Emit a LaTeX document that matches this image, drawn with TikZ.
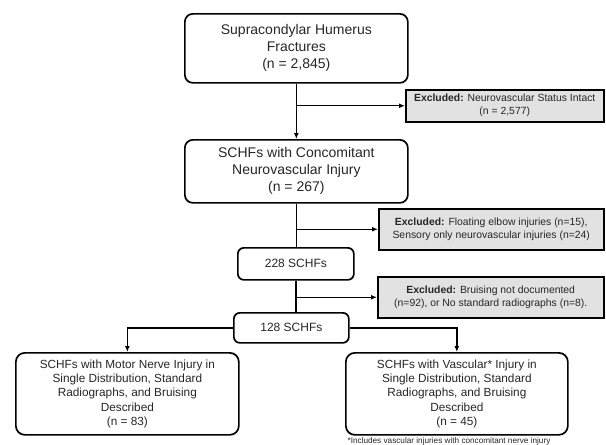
\documentclass[tikz,border=0pt]{standalone}
\usepackage{fontspec}
\setmainfont{Liberation Sans}
\usetikzlibrary{arrows.meta}
\definecolor{exfill}{HTML}{E2E2E2}
\definecolor{txt}{HTML}{262626}
\begin{document}
\begin{tikzpicture}[x=1pt,y=-1pt,
  mainbox/.style={draw, line width=1.7pt, rounded corners=8pt, align=center, text=txt,
    font=\fontsize{14}{17}\selectfont, inner sep=0pt, anchor=north west},
  smallbox/.style={draw, line width=1.7pt, rounded corners=6pt, align=center, text=txt,
    font=\fontsize{12}{14}\selectfont, inner sep=0pt, anchor=north west},
  botbox/.style={draw, line width=1.7pt, rounded corners=9pt, align=center, text=txt,
    font=\fontsize{11.8}{14.2}\selectfont, inner sep=0pt, anchor=north west},
  exbox/.style={draw, fill=exfill, line width=1.5pt, align=center, text=txt,
    font=\fontsize{10.4}{13}\selectfont, inner sep=0pt, anchor=north west},
  conn/.style={line width=1.4pt},
  arr/.style={line width=1.4pt, -{Latex[length=6pt,width=5pt]}}]
\useasboundingbox (0,0) rectangle (606,445);

\node[mainbox, minimum width=223pt, minimum height=69pt] (b1) at (184,13)
  {Supracondylar Humerus\\Fractures\\(n = 2,845)};
\node[exbox, minimum width=198pt, minimum height=32pt] (ex1) at (405,89)
  {\textbf{Excluded:} Neurovascular Status Intact\\(n = 2,577)};
\node[mainbox, minimum width=223pt, minimum height=63pt] (b2) at (184,139)
  {SCHFs with Concomitant\\Neurovascular Injury\\(n = 267)};
\node[exbox, minimum width=225pt, minimum height=41pt] (ex2) at (378,208)
  {\textbf{Excluded:} Floating elbow injuries (n=15),\\Sensory only neurovascular injuries (n=24)};
\node[smallbox, minimum width=116pt, minimum height=32pt] (b3) at (237,247)
  {228 SCHFs};
\node[exbox, minimum width=226pt, minimum height=41pt] (ex3) at (377,276)
  {\textbf{Excluded:} Bruising not documented\\(n=92), or No standard radiographs (n=8).};
\node[smallbox, minimum width=115pt, minimum height=30pt] (b4) at (233,312)
  {128 SCHFs};
\node[botbox, minimum width=223pt, minimum height=82pt] (bl) at (15,352)
  {SCHFs with Motor Nerve Injury in\\Single Distribution, Standard\\Radiographs, and Bruising\\Described\\(n = 83)};
\node[botbox, minimum width=222pt, minimum height=82pt] (br) at (345,352)
  {SCHFs with Vascular* Injury in\\Single Distribution, Standard\\Radiographs, and Bruising\\Described\\(n = 45)};
\node[text=txt, font=\fontsize{8.2}{9}\selectfont, inner sep=0pt] (fn) at (449,441)
  {*Includes vascular injuries with concomitant nerve injury};

\draw[arr] (b1.south) -- (b1.south |- b2.north);
\draw[arr] (ex1.west -| b1.south) -- (ex1.west);
\draw[conn] (b2.south) -- (b2.south |- b3.north);
\draw[arr] (ex2.west -| b2.south) -- (ex2.west);
\draw[conn] (b3.south) -- (b3.south |- b4.north);
\draw[arr] (ex3.west -| b3.south) -- (ex3.west);
\draw[arr] (b4.west) -| (bl.north);
\draw[arr] (b4.east) -| (br.north);
\end{tikzpicture}
\end{document}
